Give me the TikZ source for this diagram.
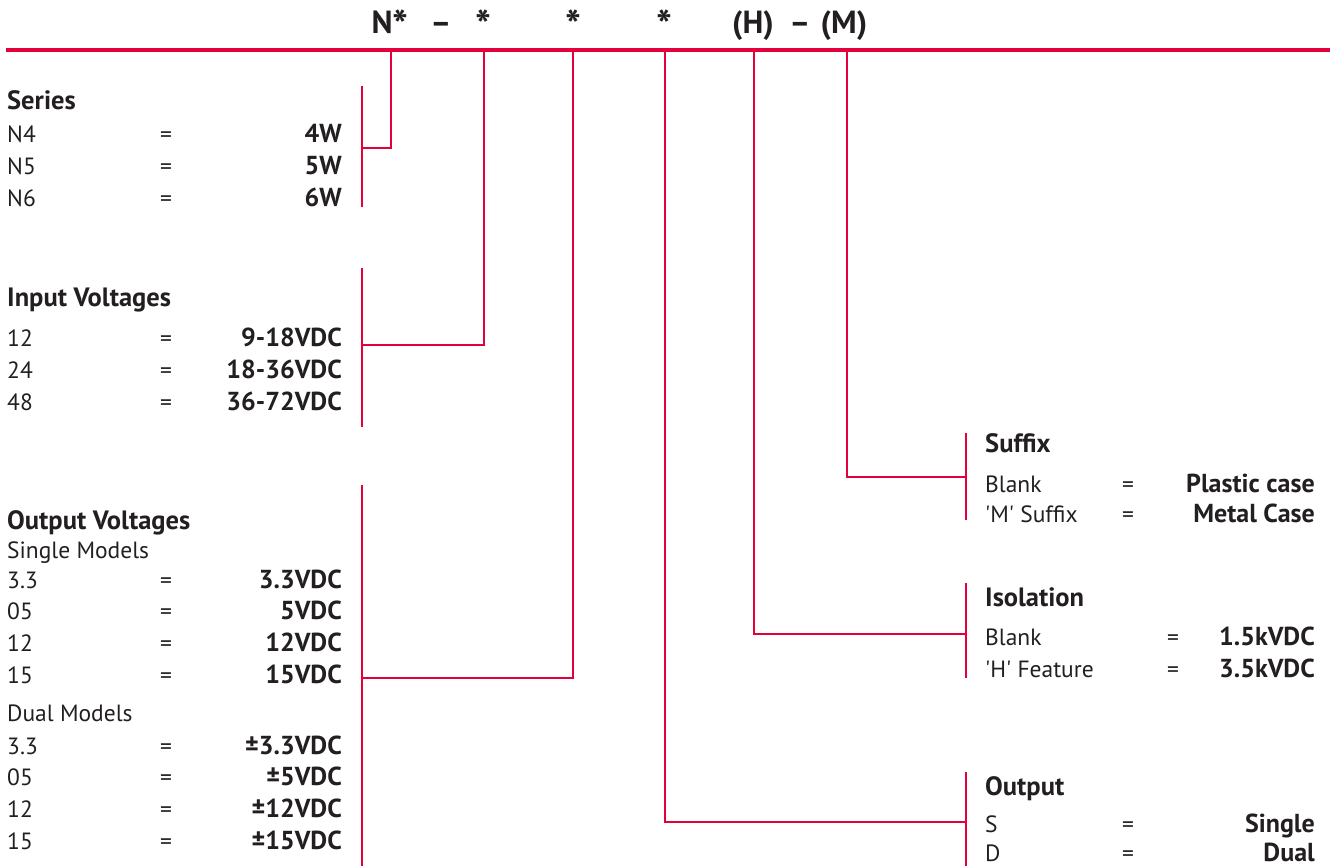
\documentclass[tikz,border=0pt]{standalone}
\usepackage{fontspec}
\setmainfont{PT Sans}
\usepackage{tikz}

\definecolor{keyred}{HTML}{E4003A}
\definecolor{keyink}{HTML}{231F20}
\newcommand{\partstar}{\raisebox{-7pt}{\fontsize{42}{42}\selectfont *}}

\begin{document}
\begin{tikzpicture}[
		x=1pt, y=-1pt,
		every node/.style={inner sep=0pt, text=keyink, font=\fontsize{23.5}{28}\selectfont},
		codetxt/.style={anchor=base, font=\fontsize{32}{36}\selectfont\bfseries},
		headtxt/.style={anchor=base west, font=\fontsize{26.5}{30}\selectfont\bfseries},
		keytxt/.style={anchor=base west},
		eqtxt/.style={anchor=base},
		valtxt/.style={anchor=base east, font=\fontsize{26}{30}\selectfont\bfseries},
		wire/.style={draw=keyred, line width=2pt},
		rail/.style={draw=keyred, line width=3.5pt}
	]
  \useasboundingbox (0,0) rectangle (1333,866);

  % part number
  \node (c_N) [codetxt] at (390, 34) {N\partstar};
  \node (c_dash1) [codetxt] at (441, 34) {--};
  \node (c_in) [codetxt] at (483, 34) {\partstar};
  \node (c_out) [codetxt] at (573, 34) {\partstar};
  \node (c_opt) [codetxt] at (664, 34) {\partstar};
  \node (c_H) [codetxt] at (753, 34) {(H)};
  \node (c_dash2) [codetxt] at (800, 34) {--};
  \node (c_M) [codetxt] at (844, 34) {(M)};
  \coordinate (rail_l) at (6, 50);
  \coordinate (rail_r) at (1330, 50);
  \draw [rail] (rail_l) -- (rail_r);

  % drop points on the rail
  \coordinate (d_series) at (391, 50);
  \coordinate (d_in) at (484, 50);
  \coordinate (d_outv) at (573, 50);
  \coordinate (d_out) at (665, 50);
  \coordinate (d_iso) at (754, 50);
  \coordinate (d_suf) at (847, 50);

  % brackets
  \coordinate (b_series_t) at (362, 86);
  \coordinate (b_series_b) at (362, 207);
  \coordinate (t_series) at (362, 148);
  \coordinate (b_in_t) at (362, 268);
  \coordinate (b_in_b) at (362, 427);
  \coordinate (t_in) at (362, 345);
  \coordinate (b_outv_t) at (362, 485);
  \coordinate (b_outv_b) at (362, 866);
  \coordinate (t_outv) at (362, 678);
  \coordinate (b_suf_t) at (966, 433);
  \coordinate (b_suf_b) at (966, 520);
  \coordinate (t_suf) at (966, 477);
  \coordinate (b_iso_t) at (966, 583);
  \coordinate (b_iso_b) at (966, 678);
  \coordinate (t_iso) at (966, 634);
  \coordinate (b_out_t) at (966, 772);
  \coordinate (b_out_b) at (966, 866);
  \coordinate (t_out) at (966, 822);

  \draw [wire] (b_series_t) -- (b_series_b);
  \draw [wire] (b_in_t) -- (b_in_b);
  \draw [wire] (b_outv_t) -- (b_outv_b);
  \draw [wire] (b_suf_t) -- (b_suf_b);
  \draw [wire] (b_iso_t) -- (b_iso_b);
  \draw [wire] (b_out_t) -- (b_out_b);

  \draw [wire] (d_series) |- (t_series);
  \draw [wire] (d_in) |- (t_in);
  \draw [wire] (d_outv) |- (t_outv);
  \draw [wire] (d_out) |- (t_out);
  \draw [wire] (d_iso) |- (t_iso);
  \draw [wire] (d_suf) |- (t_suf);

  % series
  \node (series) [headtxt] at (7, 110) {Series};
  \node (s_k1) [keytxt] at (7, 143) {N4}; \node (s_e1) [eqtxt] at (166, 143) {=}; \node (s_v1) [valtxt] at (342, 143) {4W};
  \node (s_k2) [keytxt] at (7, 175) {N5}; \node (s_e2) [eqtxt] at (166, 175) {=}; \node (s_v2) [valtxt] at (342, 175) {5W};
  \node (s_k3) [keytxt] at (7, 207) {N6}; \node (s_e3) [eqtxt] at (166, 207) {=}; \node (s_v3) [valtxt] at (342, 207) {6W};

  % input voltages
  \node (inv) [headtxt] at (7, 307) {Input Voltages};
  \node (i_k1) [keytxt] at (7, 347) {12}; \node (i_e1) [eqtxt] at (166, 347) {=}; \node (i_v1) [valtxt] at (342, 347) {9-18VDC};
  \node (i_k2) [keytxt] at (7, 379) {24}; \node (i_e2) [eqtxt] at (166, 379) {=}; \node (i_v2) [valtxt] at (342, 379) {18-36VDC};
  \node (i_k3) [keytxt] at (7, 410) {48}; \node (i_e3) [eqtxt] at (166, 410) {=}; \node (i_v3) [valtxt] at (342, 410) {36-72VDC};

  % output voltages
  \node (outv) [headtxt] at (7, 529) {Output Voltages};
  \node (single) [keytxt] at (7, 558) {Single Models};
  \node (o_k1) [keytxt] at (7, 588) {3.3}; \node (o_e1) [eqtxt] at (166, 588) {=}; \node (o_v1) [valtxt] at (342, 588) {3.3VDC};
  \node (o_k2) [keytxt] at (7, 619) {05}; \node (o_e2) [eqtxt] at (166, 619) {=}; \node (o_v2) [valtxt] at (342, 619) {5VDC};
  \node (o_k3) [keytxt] at (7, 651) {12}; \node (o_e3) [eqtxt] at (166, 651) {=}; \node (o_v3) [valtxt] at (342, 651) {12VDC};
  \node (o_k4) [keytxt] at (7, 683) {15}; \node (o_e4) [eqtxt] at (166, 683) {=}; \node (o_v4) [valtxt] at (342, 683) {15VDC};
  \node (dual) [keytxt] at (7, 721) {Dual Models};
  \node (o_k5) [keytxt] at (7, 754) {3.3}; \node (o_e5) [eqtxt] at (166, 754) {=}; \node (o_v5) [valtxt] at (342, 754) {±3.3VDC};
  \node (o_k6) [keytxt] at (7, 785) {05}; \node (o_e6) [eqtxt] at (166, 785) {=}; \node (o_v6) [valtxt] at (342, 785) {±5VDC};
  \node (o_k7) [keytxt] at (7, 817) {12}; \node (o_e7) [eqtxt] at (166, 817) {=}; \node (o_v7) [valtxt] at (342, 817) {±12VDC};
  \node (o_k8) [keytxt] at (7, 849) {15}; \node (o_e8) [eqtxt] at (166, 849) {=}; \node (o_v8) [valtxt] at (342, 849) {±15VDC};

  % suffix
  \node (suffix) [headtxt] at (985, 452) {Suffix};
  \node (x_k1) [keytxt] at (985, 492) {Blank}; \node (x_e1) [eqtxt] at (1128, 492) {=}; \node (x_v1) [valtxt] at (1315, 492) {Plastic case};
  \node (x_k2) [keytxt] at (985, 522) {\textquotesingle M\textquotesingle{} Suffix}; \node (x_e2) [eqtxt] at (1128, 522) {=}; \node (x_v2) [valtxt] at (1315, 522) {Metal Case};

  % isolation
  \node (isolation) [headtxt] at (985, 606) {Isolation};
  \node (h_k1) [keytxt] at (985, 645) {Blank}; \node (h_e1) [eqtxt] at (1173, 645) {=}; \node (h_v1) [valtxt] at (1315, 645) {1.5kVDC};
  \node (h_k2) [keytxt] at (985, 677) {\textquotesingle H\textquotesingle{} Feature}; \node (h_e2) [eqtxt] at (1173, 677) {=}; \node (h_v2) [valtxt] at (1315, 677) {3.5kVDC};

  % output
  \node (output) [headtxt] at (985, 795) {Output};
  \node (p_k1) [keytxt] at (985, 832) {S}; \node (p_e1) [eqtxt] at (1128, 832) {=}; \node (p_v1) [valtxt] at (1315, 832) {Single};
  \node (p_k2) [keytxt] at (985, 861) {D}; \node (p_e2) [eqtxt] at (1128, 861) {=}; \node (p_v2) [valtxt] at (1315, 861) {Dual};
\end{tikzpicture}
\end{document}
